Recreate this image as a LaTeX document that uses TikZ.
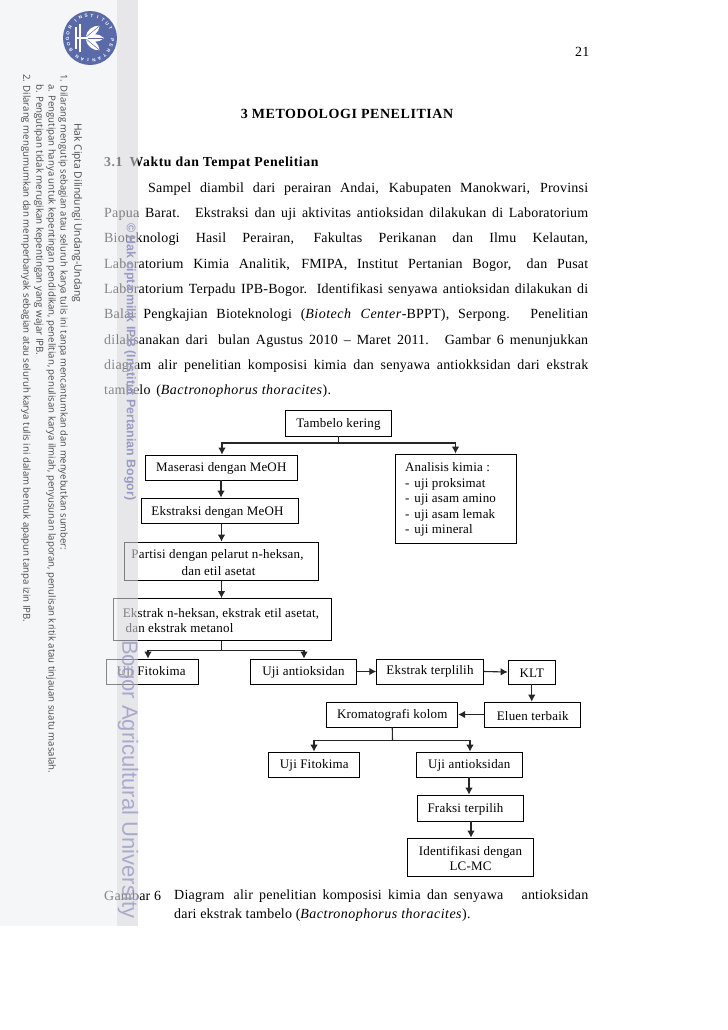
\documentclass[tikz,border=0pt]{standalone}
\usepackage{fontspec}
\usepackage{graphicx}
\setmainfont[LetterSpace=1.5,ItalicFeatures={LetterSpace=3.5},BoldFeatures={LetterSpace=4}]{Liberation Serif}
\newfontfamily\wmfont{Open Sans}
\newfontfamily\bandfont{Liberation Sans}
\usetikzlibrary{arrows.meta}
\definecolor{panel}{HTML}{F5F6F7}
\definecolor{band}{HTML}{E7E7EA}
\definecolor{wmblue}{HTML}{9A9AC6}
\definecolor{logoblue}{HTML}{5A6AA8}
\definecolor{wmtext}{HTML}{4A4A4A}
\tikzset{
  bodyline/.style={anchor=west,inner sep=0pt,font=\fontsize{14bp}{15bp}\selectfont},
  boldline/.style={inner sep=0pt,font=\fontsize{14bp}{15bp}\selectfont\bfseries},
  flowbox/.style={draw=black,line width=0.9bp,inner sep=0pt,align=center,font=\fontsize{13bp}{15.5bp}\selectfont},
  flow/.style={draw=black!85,line width=1.1bp},
  flowarrow/.style={flow,-{Latex[length=7bp,width=7.5bp]}},
  legal/.style={rotate=-90,anchor=west,inner sep=0pt,text=wmtext},
  logoletter/.style={inner sep=0pt,text=white,font=\fontsize{4.6bp}{5bp}\selectfont\bandfont\bfseries},
}
\newcommand{\flowb}[6]{\node[flowbox,minimum width={#4-#2},minimum height={#5-#3}] (#1) at ({(#2+#4)/2},{(#3+#5)/2}) {\rule{0pt}{11.5bp}#6};}
\begin{document}
\begin{tikzpicture}[x=1bp,y=-1bp]
\useasboundingbox (0,0) rectangle (728,1030);
\fill[white] (0,0) rectangle (728,1030);
\fill[panel] (0,0) rectangle (117,926);
\fill[band] (117,0) rectangle (138,926);
% page text
\node[bodyline] (pg) at (575,52) {21};
\node[boldline,anchor=center] (title) at (347,114) {3 METODOLOGI PENELITIAN};
\node[boldline,anchor=west,font=\fontsize{13.8bp}{15bp}\selectfont\bfseries] (sec) at (104,163) {3.1\hspace{7bp}Waktu dan Tempat Penelitian};
\node[bodyline] (l1) at (148,189) {\makebox[440bp][s]{Sampel diambil dari perairan Andai, Kabupaten Manokwari, Provinsi}};
\node[bodyline] (l2) at (104,214) {\makebox[484bp][s]{Papua Barat.\hspace{4bp} Ekstraksi dan uji aktivitas antioksidan dilakukan di Laboratorium}};
\node[bodyline] (l3) at (104,239) {\makebox[484bp][s]{Bioteknologi Hasil Perairan, Fakultas Perikanan dan Ilmu Kelautan,}};
\node[bodyline] (l4) at (104,265) {\makebox[484bp][s]{Laboratorium Kimia Analitik, FMIPA, Institut Pertanian Bogor,\hspace{4bp} dan Pusat}};
\node[bodyline] (l5) at (104,290) {\makebox[484bp][s]{Laboratorium Terpadu IPB-Bogor. Identifikasi senyawa antioksidan dilakukan di}};
\node[bodyline] (l6) at (104,315) {\makebox[484bp][s]{Balai Pengkajian Bioteknologi (\textit{Biotech Center}-BPPT), Serpong. Penelitian}};
\node[bodyline] (l7) at (104,341) {\makebox[484bp][s]{dilaksanakan dari\hspace{4bp} bulan Agustus 2010 -- Maret 2011.\hspace{4bp} Gambar 6 menunjukkan}};
\node[bodyline] (l8) at (104,366) {\makebox[484bp][s]{diagram alir penelitian komposisi kimia dan senyawa antiokksidan dari ekstrak}};
\node[bodyline] (l9) at (104,391) {tambelo\hspace{2bp} (\textit{Bactronophorus thoracites}).};
\node[bodyline] (cap0) at (104,896) {Gambar 6};
\node[bodyline] (cap1) at (174,896) {\makebox[414bp][s]{Diagram\hspace{3bp} alir penelitian komposisi kimia dan senyawa\hspace{12bp} antioksidan}};
\node[bodyline] (cap2) at (174,915) {dari ekstrak tambelo (\textit{Bactronophorus thoracites}).};
% boxes
\flowb{tk}{285}{410}{392}{436}{Tambelo kering}
\flowb{mas}{145}{455}{297.5}{480}{Maserasi dengan MeOH}
\flowb{eks}{141.5}{498}{298.5}{523.5}{\hspace*{-5bp}Ekstraksi dengan MeOH}
\flowb{par}{124.5}{542}{318.5}{581}{\hspace*{-8bp}Partisi dengan pelarut n-heksan,\\[1bp]\hspace*{-6bp}dan etil asetat}
\flowb{enh}{113.5}{598.5}{331.5}{640.5}{\hspace*{-3bp}Ekstrak n-heksan, ekstrak etil asetat,\\\hspace*{-86bp}dan ekstrak metanol}
\flowb{uf}{106}{659}{198.5}{684}{\hspace*{-2bp}Uji Fitokima}
\flowb{ua}{250.5}{659}{356.5}{684}{Uji antioksidan}
\flowb{et}{376.5}{659}{483.5}{684}{\raisebox{2bp}{Ekstrak terplilih}}
\flowb{klt}{508}{660}{555.5}{684}{KLT}
\flowb{elu}{484.5}{702}{581}{727}{Eluen terbaik}
\flowb{kro}{326.5}{702}{458}{727}{Kromatografi kolom}
\flowb{uf2}{268.5}{752}{360}{777}{Uji Fitokima}
\flowb{ua2}{416}{752}{522.5}{777}{Uji antioksidan}
\flowb{fra}{417.5}{795}{523.5}{821}{\hspace*{-10bp}Fraksi terpilih}
\flowb{ide}{407.5}{838}{533.5}{877}{Identifikasi dengan\\LC-MC}
\node[flowbox,align=left,minimum width=121bp,minimum height=89bp,inner sep=0pt] (ana) at (455.5,498.5) {\hspace*{-10bp}\rule{0pt}{44bp}\begin{tabular}{@{}l@{}}Analisis kimia :\\-\hspace{5bp}uji proksimat\\-\hspace{5bp}uji asam amino\\-\hspace{5bp}uji asam lemak\\-\hspace{5bp}uji mineral\end{tabular}};
% connectors
\coordinate (j1) at (tk.south |- 0,443);
\draw[flow] (tk.south) -- (j1);
\draw[flowarrow] (j1) -| (mas.north -| 222,0);
\draw[flowarrow] (j1) -| (ana.north);
\draw[flowarrow] (mas.south -| 221,0) -- (eks.north -| 221,0);
\draw[flowarrow] (eks.south -| 221.5,0) -- (par.north -| 221.5,0);
\draw[flowarrow] (par.south -| 221.5,0) -- (enh.north -| 221.5,0);
\coordinate (j2) at (221.5,650.5);
\draw[flow] (enh.south -| j2) -- (j2);
\draw[flowarrow] (j2) -| (uf.north -| 148,0);
\draw[flowarrow] (j2) -| (ua.north -| 304,0);
\draw[flowarrow] (ua.east) -- (et.west);
\draw[flowarrow] (et.east) -- (klt.west);
\draw[flowarrow] (klt.south) -- (elu.north -| klt.south);
\draw[flowarrow] (elu.west) -- (kro.east);
\coordinate (j3) at (392.5,740.5);
\draw[flow] (kro.south) -- (j3);
\draw[flowarrow] (j3) -| (uf2.north -| 314,0);
\draw[flowarrow] (j3) -| (ua2.north -| 470,0);
\draw[flowarrow] (ua2.south -| 469,0) -- (fra.north -| 469,0);
\draw[flowarrow] (fra.south -| 471,0) -- (ide.north -| 471,0);
% fading overlay of the left margin
\fill[panel,opacity=0.55] (0,0) rectangle (117,926);
\fill[band,opacity=0.55] (117,0) rectangle (138,926);
% legal text
\node[legal] (h0) at (77,123) {\resizebox{179bp}{!}{\wmfont Hak Cipta Dilindungi Undang-Undang}};
\node[legal] (h1) at (63,74) {\resizebox{476bp}{!}{\wmfont 1. Dilarang mengutip sebagian atau seluruh karya tulis ini tanpa mencantumkan dan menyebutkan sumber:}};
\node[legal] (h2) at (51,84) {\resizebox{689bp}{!}{\wmfont a. Pengutipan hanya untuk kepentingan pendidikan, penelitian, penulisan karya ilmiah, penyusunan laporan, penulisan kritik atau tinjauan suatu masalah.}};
\node[legal] (h3) at (39,84) {\resizebox{271bp}{!}{\wmfont b. Pengutipan tidak merugikan kepentingan yang wajar IPB.}};
\node[legal] (h4) at (26,74) {\resizebox{548bp}{!}{\wmfont 2. Dilarang mengumumkan dan memperbanyak sebagian atau seluruh karya tulis ini dalam bentuk apapun tanpa izin IPB.}};
% band watermark
\node[rotate=-90,anchor=west,inner sep=0pt,text=wmblue] (w1) at (130,223) {\resizebox{277bp}{!}{\bandfont\bfseries © Hak cipta milik IPB (Institut Pertanian Bogor)}};
\node[rotate=-90,anchor=west,inner sep=0pt,text=wmblue,opacity=0.8] (w2) at (128,640) {\resizebox{278bp}{!}{\bandfont Bogor Agricultural University}};
% logo
\fill[logoblue] (90,38) circle (27);
\foreach \ch [count=\i] in {I,N,S,T,I,T,U,T,{ },P,E,R,T,A,N,I,A,N}{
  \pgfmathsetmacro{\ang}{130-(\i-1)*15}
  \node[logoletter,rotate=\ang-90] at ({90+22.5*cos(\ang)},{38-22.5*sin(\ang)}) {\ch};
}
\foreach \ch [count=\i] in {B,O,G,O,R}{
  \pgfmathsetmacro{\ang}{212-(\i-1)*15}
  \node[logoletter,rotate=\ang-90] at ({90+22.5*cos(\ang)},{38-22.5*sin(\ang)}) {\ch};
}
\foreach \a in {-40,0,40}{
  \fill[white,rotate around={\a:(85,38)}] (86,38) .. controls (91,33) and (99,33) .. (104,38) .. controls (99,43) and (91,43) .. (86,38) -- cycle;
  \draw[logoblue,line width=0.5bp,rotate around={\a:(85,38)}] (87,38) -- (103,38);
}
\draw[white,line width=1.3bp] (80,24) -- (80,52);
\draw[white,line width=1.1bp] (76,27) -- (76,49);
\draw[white,line width=1.1bp] (76,38) -- (88,38);
\end{tikzpicture}
\end{document}
